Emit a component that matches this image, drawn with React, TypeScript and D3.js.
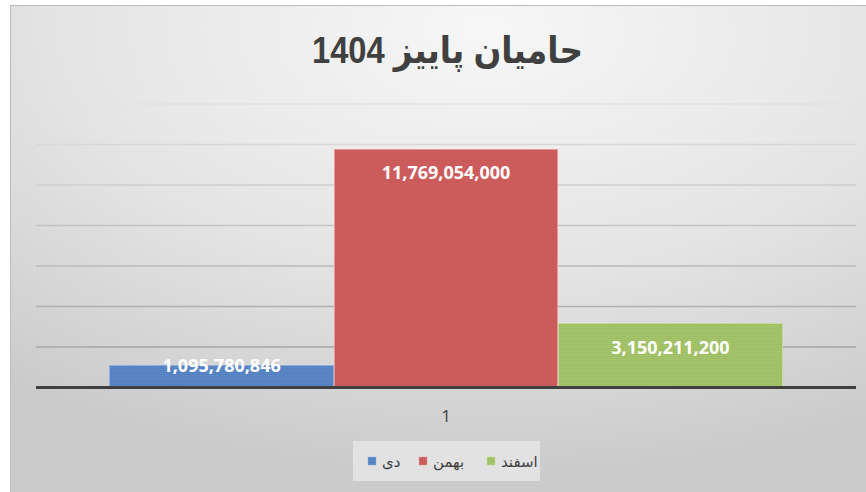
import React from "react";
import * as d3 from "d3";

const TITLE = "حامیان پاییز 1404";
const categories = ["1"];
const seriesNames = ["دی", "بهمن", "اسفند"];
const seriesValues = [1095780846, 11769054000, 3150211200];
const seriesColors = ["#5b87c6", "#cf5f5f", "#a5c46b"];
const seriesDots = ["#4a76b6", "#bf4f4f", "#93b45a"];
const seriesStroke = ["#8fb0dc", "#e79a9a", "#c6dc9e"];
const yTicks = [0, 2e9, 4e9, 6e9, 8e9, 10e9, 12e9, 14e9];

const W = 866;
const H = 492;
const plotLeft = 36;
const plotRight = 856;
const plotTop = 104;
const plotBottom = 387.5;

export default function App() {
  const y = d3.scaleLinear().domain([0, 14e9]).range([plotBottom, plotTop]);
  const x0 = d3
    .scaleBand<string>()
    .domain(categories)
    .range([plotLeft, plotRight])
    .paddingInner(0)
    .paddingOuter(0.109);
  const x1 = d3
    .scaleBand<string>()
    .domain(seriesNames)
    .range([0, x0.bandwidth()])
    .padding(0);
  const fmt = d3.format(",");
  const gridColor = d3
    .scaleLinear<string>()
    .domain([14e9, 0])
    .range(["#e2e2e2", "#9c9c9c"]);

  const legendItems = [
    { name: seriesNames[0], i: 0, x: 368 },
    { name: seriesNames[1], i: 1, x: 419 },
    { name: seriesNames[2], i: 2, x: 487 },
  ];

  return (
    <svg
      width={W}
      height={H}
      style={{ position: "absolute", left: 0, top: 0 }}
      xmlns="http://www.w3.org/2000/svg"
    >
      <defs>
        <radialGradient id="bg" cx="0.55" cy="0.05" r="0.9" fx="0.55" fy="0.05">
          <stop offset="0" stopColor="#f7f7f7" />
          <stop offset="0.55" stopColor="#e4e4e4" />
          <stop offset="1" stopColor="#cbcbcb" />
        </radialGradient>
        {seriesColors.map((c, i) => (
          <pattern
            key={i}
            id={`pat${i}`}
            width={4}
            height={4}
            patternUnits="userSpaceOnUse"
          >
            <rect width={4} height={4} fill={c} />
            <rect x={0} y={0} width={1} height={1} fill={seriesDots[i]} />
            <rect x={2} y={2} width={1} height={1} fill={seriesDots[i]} />
            <rect x={2} y={0} width={1} height={1} fill={seriesDots[i]} opacity={0.5} />
            <rect x={0} y={2} width={1} height={1} fill={seriesDots[i]} opacity={0.5} />
          </pattern>
        ))}
      </defs>
      <rect x={0} y={0} width={W} height={H} fill="#ffffff" />
      <rect x={10.5} y={5.5} width={W} height={H} fill="url(#bg)" stroke="#bdbdbd" strokeWidth={1} />

      <text
        x={447.5}
        y={63}
        textAnchor="middle"
        direction="rtl"
        fontFamily="'Liberation Sans', 'DejaVu Sans', Arial, sans-serif"
        fontWeight="bold"
        fontSize={37}
        textLength={271}
        lengthAdjust="spacingAndGlyphs"
        fill="#404040"
      >
        {TITLE}
      </text>

      {yTicks.slice(1).map((t) => (
        <line
          key={t}
          x1={plotLeft}
          x2={plotRight}
          y1={y(t)}
          y2={y(t)}
          stroke={gridColor(t)}
          strokeWidth={1.5}
        />
      ))}

      {categories.map((cat) => (
        <g key={cat} transform={`translate(${x0(cat)},0)`}>
          {seriesNames.map((s, i) => {
            const v = seriesValues[i];
            const bx = x1(s) as number;
            const by = y(v);
            const bh = plotBottom - by;
            const ly = Math.min(by + 30, plotBottom - 16);
            return (
              <g key={s}>
                <rect
                  x={bx + 0.5}
                  y={by}
                  width={x1.bandwidth() - 1}
                  height={bh}
                  fill={`url(#pat${i})`}
                  stroke={seriesStroke[i]}
                  strokeWidth={1}
                  shapeRendering="crispEdges"
                />
                <text
                  x={bx + x1.bandwidth() / 2}
                  y={ly}
                  textAnchor="middle"
                  fontFamily="'Open Sans', sans-serif"
                  fontWeight="bold"
                  fontSize={18}
                  fill="#ffffff"
                >
                  {fmt(v)}
                </text>
              </g>
            );
          })}
          <text
            x={x0.bandwidth() / 2}
            y={421.5}
            textAnchor="middle"
            fontFamily="'Open Sans', sans-serif"
            fontSize={17}
            fill="#404040"
          >
            {cat}
          </text>
        </g>
      ))}

      <line
        x1={plotLeft}
        x2={plotRight}
        y1={plotBottom}
        y2={plotBottom}
        stroke="#404040"
        strokeWidth={3}
      />

      <rect x={353} y={441} width={187} height={40} fill="#e2e2e2" />
      {legendItems.map((it) => (
        <g key={it.name}>
          <rect
            x={it.x}
            y={457}
            width={8}
            height={8}
            fill={`url(#pat${it.i})`}
            stroke={seriesStroke[it.i]}
            strokeWidth={0.5}
          />
          <text
            x={it.x + 14}
            y={467}
            direction="ltr"
            fontFamily="'DejaVu Sans', sans-serif"
            fontSize={15}
            fill="#404040"
          >
            {it.name}
          </text>
        </g>
      ))}
    </svg>
  );
}
